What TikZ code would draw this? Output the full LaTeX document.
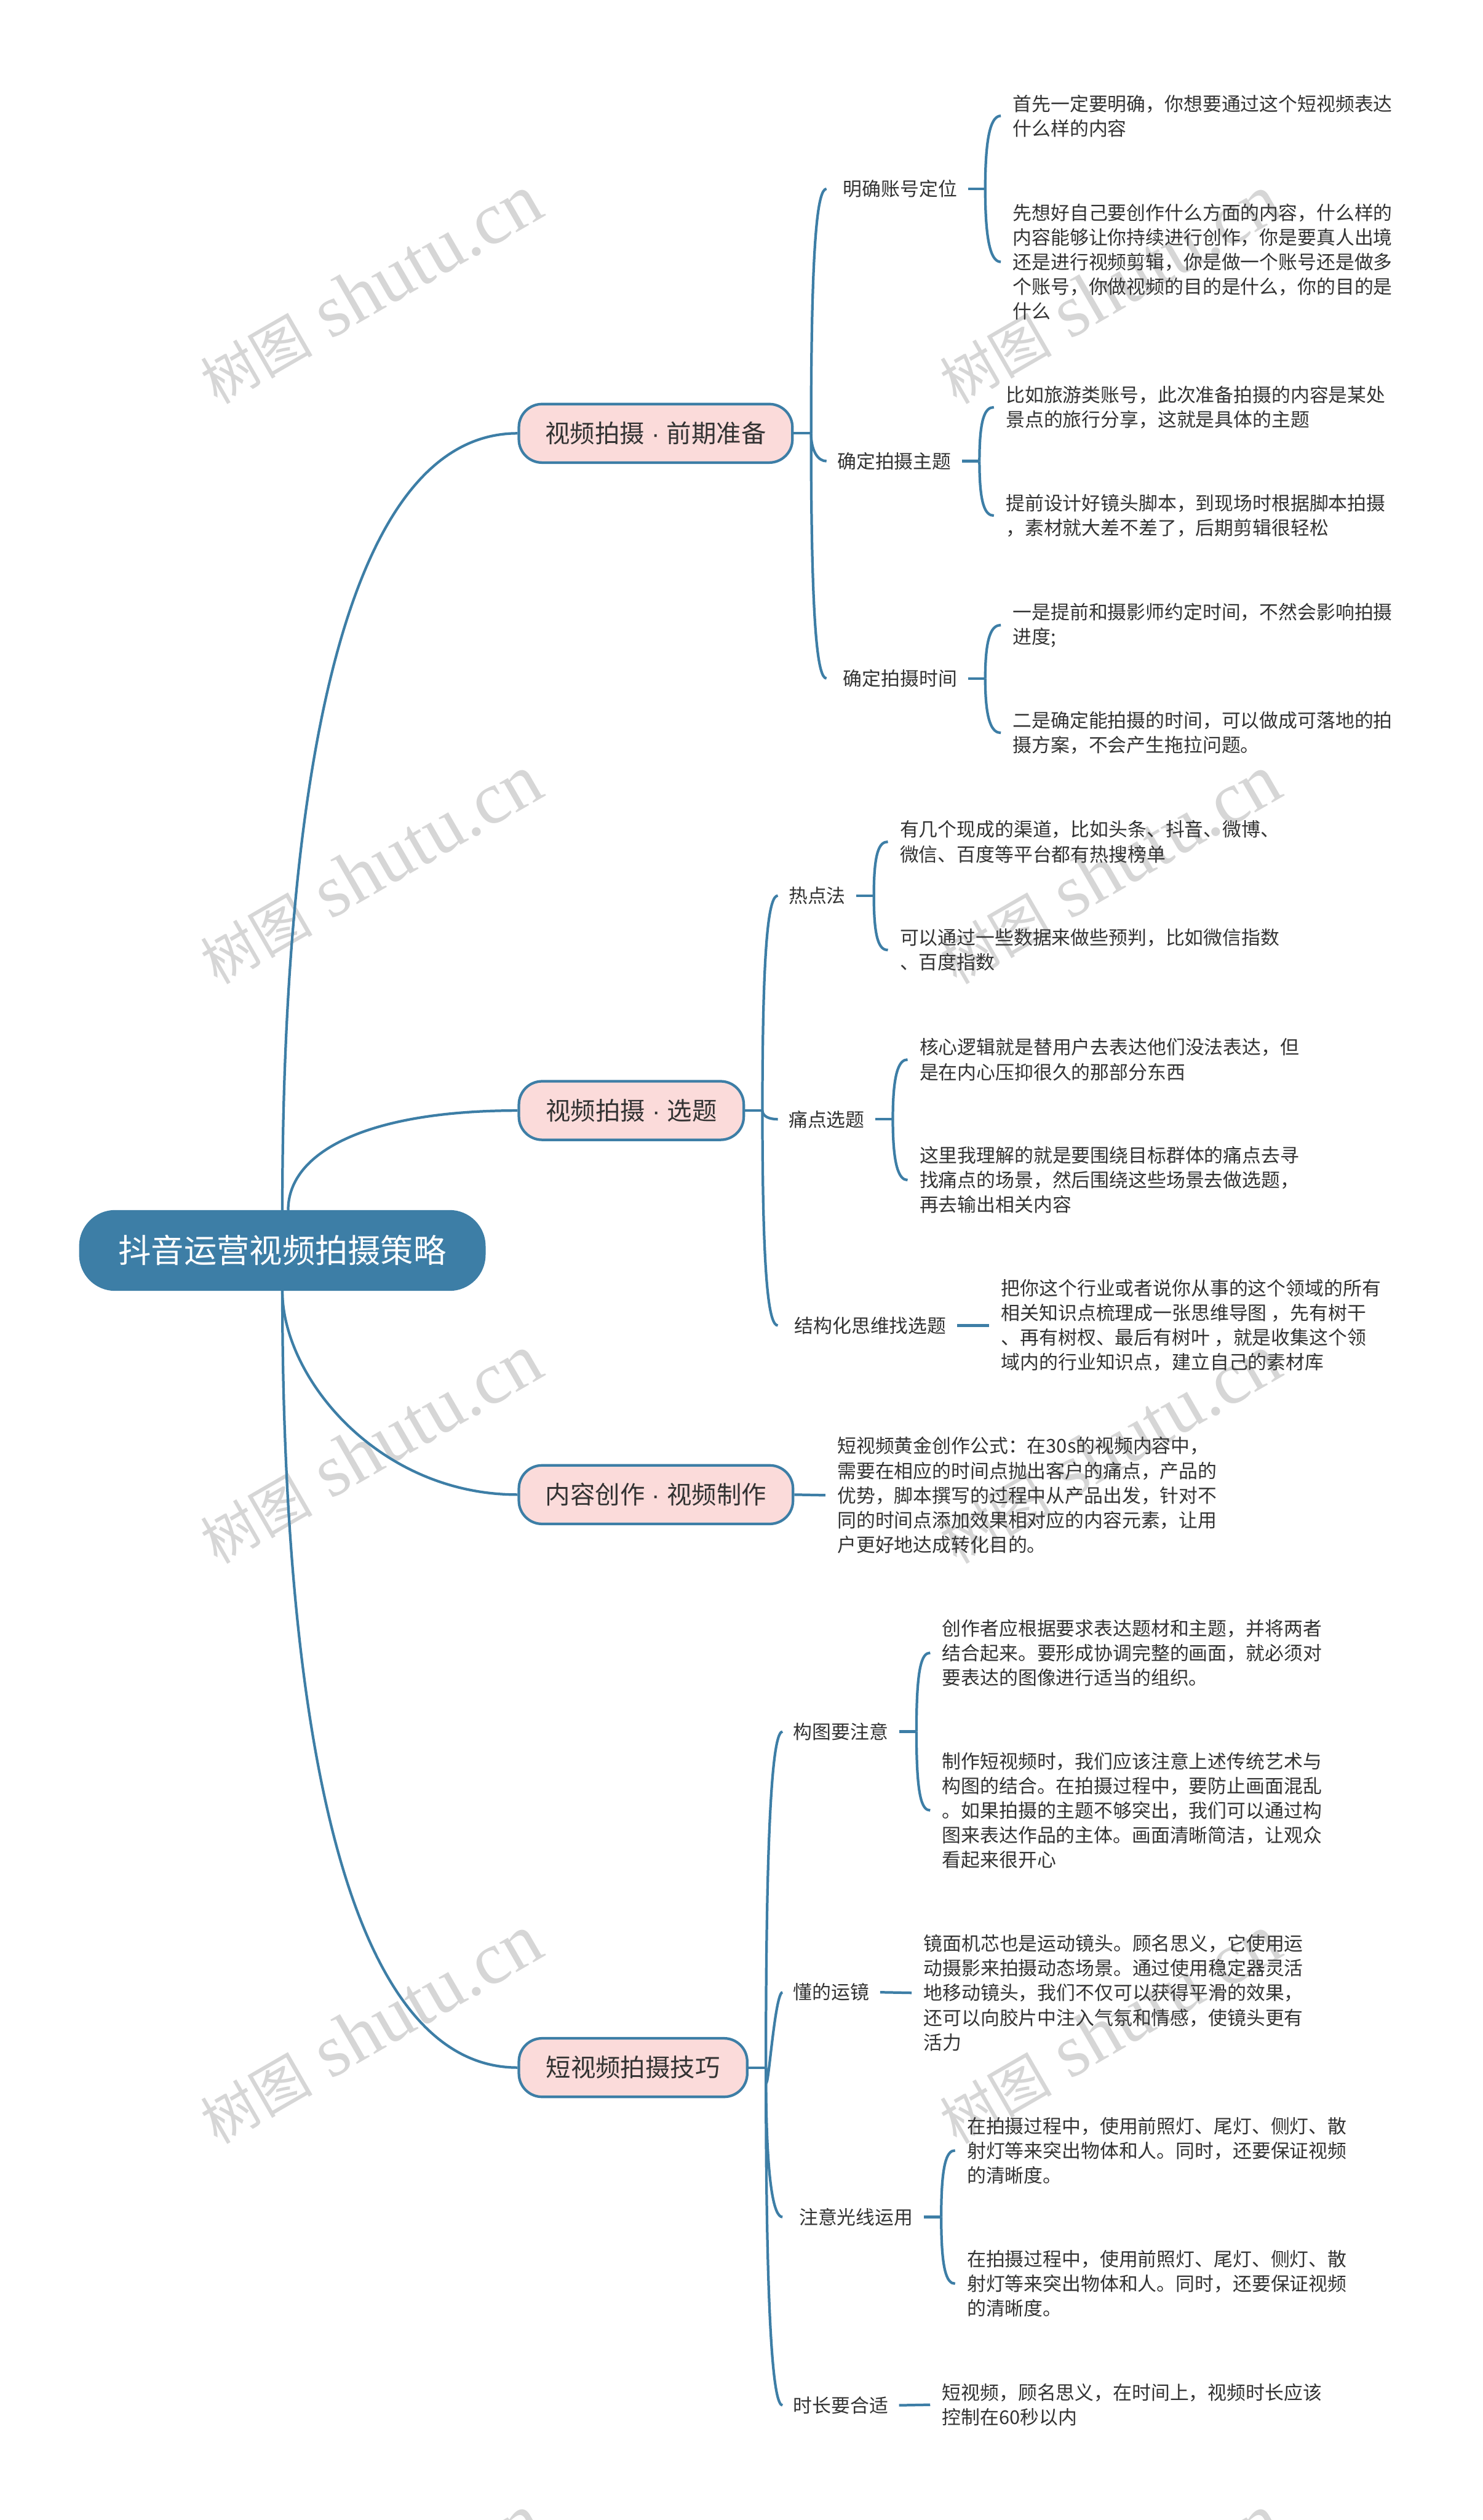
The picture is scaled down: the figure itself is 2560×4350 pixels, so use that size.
\documentclass[tikz,border=0pt]{standalone}
\usepackage{fontspec}
\setmainfont{Noto Sans CJK SC}
\newfontfamily\wmlatin{Liberation Serif}
\newfontfamily\dotfont{Liberation Sans}
\usepackage{xcolor}
\usetikzlibrary{calc}
\definecolor{teal}{HTML}{3D7EA6}
\definecolor{blush}{HTML}{FBDBDA}
\definecolor{mark}{HTML}{D6D6D6}
\definecolor{ink}{HTML}{333333}
\newcommand\tdot{{\dotfont\ ·\ }}

\begin{document}
\begin{tikzpicture}[
x=0.01cm, y=-0.01cm,
rootbox/.style={
	draw=teal, fill=teal, line width=.45mm, rounded corners=6mm,
	minimum width=6.97cm, minimum height=1.35cm, inner sep=0pt,
	text=white, font=\fontsize{16.1}{20}\selectfont
},
topic/.style={
	draw=teal, fill=blush, line width=.45mm, rounded corners=4mm,
	minimum height=1.01cm, inner sep=0pt,
	text=ink, font=\fontsize{12.2}{15}\selectfont
},
sub/.style={
	anchor=west, inner xsep=1.8mm, inner ysep=0pt,
	text=ink, font=\fontsize{9.32}{12.1}\selectfont
},
pad/.style={execute at begin node=\hspace{1mm}},
leaf/.style={
	anchor=west, inner xsep=2mm, inner ysep=0pt, align=left,
	text=ink, font=\fontsize{9.32}{12.1}\selectfont
},
wmark/.style={rotate=30, text=mark, inner sep=0pt},
link/.style={draw=teal, line width=.45mm},
limb/.style={link, out distance=#1, in distance=1.5mm}
]
\useasboundingbox (0,0) rectangle (2560,4350);

% watermark
\begin{scope}
\clip (0,0) rectangle (2560,4350);
\foreach \wx in {640,1916}
	\foreach \wy in {500,1501,2502,3503,4504}
		\node[wmark] (wm-\wx-\wy) at (\wx,\wy)
			{\fontsize{27.5}{30}\selectfont 树图\wmlatin\fontsize{36.5}{40}\selectfont\ shutu.cn};
\end{scope}

\node[rootbox] (root) at (487.5,2158.5) {抖音运营视频拍摄策略};

\node[topic,minimum width=4.72cm] (a) at (1132,748) {视频拍摄\tdot 前期准备};
\node[topic,minimum width=3.88cm] (b) at (1090,1917) {视频拍摄\tdot 选题};
\node[topic,minimum width=4.73cm] (c) at (1132.5,2580) {内容创作\tdot 视频制作};
\node[topic,minimum width=3.94cm] (d) at (1093,3569) {短视频拍摄技巧};

\node[sub,pad] (a1) at (1427,326) {明确账号定位};
\node[sub] (a2) at (1427,796) {确定拍摄主题};
\node[sub,pad] (a3) at (1427,1171) {确定拍摄时间};
\node[sub] (b1) at (1343,1546) {热点法};
\node[sub] (b2) at (1343,1932) {痛点选题};
\node[sub,pad] (b3) at (1343,2288) {结构化思维找选题};
\node[sub] (d1) at (1351,2989) {构图要注意};
\node[sub] (d2) at (1351,3439) {懂的运镜};
\node[sub,pad] (d3) at (1351,3827) {注意光线运用};
\node[sub] (d4) at (1351,4152) {时长要合适};

\node[leaf] (a11) at (1728,200) {首先一定要明确，你想要通过这个短视频表达\\什么样的内容};
\node[leaf] (a12) at (1728,452) {先想好自己要创作什么方面的内容，什么样的\\内容能够让你持续进行创作，你是要真人出境\\还是进行视频剪辑，你是做一个账号还是做多\\个账号，你做视频的目的是什么，你的目的是\\什么};
\node[leaf] (a21) at (1716,703) {比如旅游类账号，此次准备拍摄的内容是某处\\景点的旅行分享，这就是具体的主题};
\node[leaf] (a22) at (1716,890) {提前设计好镜头脚本，到现场时根据脚本拍摄\\，素材就大差不差了，后期剪辑很轻松};
\node[leaf] (a31) at (1728,1079) {一是提前和摄影师约定时间，不然会影响拍摄\\进度;};
\node[leaf] (a32) at (1728,1265) {二是确定能拍摄的时间，可以做成可落地的拍\\摄方案，不会产生拖拉问题。};
\node[leaf] (b11) at (1533,1453) {有几个现成的渠道，比如头条、抖音、微博、\\微信、百度等平台都有热搜榜单};
\node[leaf] (b12) at (1533,1640) {可以通过一些数据来做些预判，比如微信指数\\、百度指数};
\node[leaf] (b21) at (1567,1829) {核心逻辑就是替用户去表达他们没法表达，但\\是在内心压抑很久的那部分东西};
\node[leaf] (b22) at (1567,2037) {这里我理解的就是要围绕目标群体的痛点去寻\\找痛点的场景，然后围绕这些场景去做选题，\\再去输出相关内容};
\node[leaf] (b31) at (1708,2288) {把你这个行业或者说你从事的这个领域的所有\\相关知识点梳理成一张思维导图 ，先有树干\\、再有树杈、最后有树叶 ，就是收集这个领\\域内的行业知识点，建立自己的素材库};
\node[leaf] (c1) at (1425,2581) {短视频黄金创作公式：在30s的视频内容中，\\需要在相应的时间点抛出客户的痛点，产品的\\优势，脚本撰写的过程中从产品出发，针对不\\同的时间点添加效果相对应的内容元素，让用\\户更好地达成转化目的。};
\node[leaf] (d11) at (1606,2853) {创作者应根据要求表达题材和主题，并将两者\\结合起来。要形成协调完整的画面，就必须对\\要表达的图像进行适当的组织。};
\node[leaf] (d12) at (1606,3125) {制作短视频时，我们应该注意上述传统艺术与\\构图的结合。在拍摄过程中，要防止画面混乱\\。如果拍摄的主题不够突出，我们可以通过构\\图来表达作品的主体。画面清晰简洁，让观众\\看起来很开心};
\node[leaf] (d21) at (1574,3440) {镜面机芯也是运动镜头。顾名思义，它使用运\\动摄影来拍摄动态场景。通过使用稳定器灵活\\地移动镜头，我们不仅可以获得平滑的效果，\\还可以向胶片中注入气氛和情感，使镜头更有\\活力};
\node[leaf] (d31) at (1649,3712) {在拍摄过程中，使用前照灯、尾灯、侧灯、散\\射灯等来突出物体和人。同时，还要保证视频\\的清晰度。};
\node[leaf] (d32) at (1649,3942) {在拍摄过程中，使用前照灯、尾灯、侧灯、散\\射灯等来突出物体和人。同时，还要保证视频\\的清晰度。};
\node[leaf] (d41) at (1606,4151) {短视频，顾名思义，在时间上，视频时长应该\\控制在60秒以内};

% trunk curves out of the root
\draw[link,out distance=5.91cm,in distance=3.36cm] (root.north) to[out=90,in=180] (a.west);
\draw[link,out distance=1cm,in distance=2.6cm] ([xshift=1mm]root.north) to[out=90,in=180] (b.west);
\draw[link,out distance=1.5cm,in distance=2.4cm] (root.south) to[out=-90,in=180] (c.west);
\draw[link,out distance=5.91cm,in distance=3.36cm] (root.south) to[out=-90,in=180] (d.west);

% stems with a spine behind them
\foreach \p in {a,b,d,a1,a2,a3,b1,b2,d1,d3}
{
	\coordinate (s\p) at ($(\p.east)+(30,0)$);
	\draw[link] (\p.east) -- (s\p);
}
% stems with one leaf
\foreach \p/\q in {b3/b31,c/c1,d2/d21,d4/d41}
	\draw[link] (\p.east) -- (\q.west);

% brackets
\foreach \s/\q/\o/\d in {
	a/a1/90/3.4cm,a/a2/-90/.3cm,a/a3/-90/3.4cm,
	b/b1/90/3cm,b/b2/-90/.1cm,b/b3/-90/3cm,
	d/d1/90/4.6cm,d/d2/-90/1cm,d/d3/-90/2cm,d/d4/-90/4.6cm,
	a1/a11/90/1cm,a1/a12/-90/1cm,a2/a21/90/.75cm,a2/a22/-90/.75cm,
	a3/a31/90/.75cm,a3/a32/-90/.75cm,b1/b11/90/.75cm,b1/b12/-90/.75cm,
	b2/b21/90/.8cm,b2/b22/-90/.8cm,d1/d11/90/1.1cm,d1/d12/-90/1.1cm,
	d3/d31/90/.9cm,d3/d32/-90/.9cm}
	\draw[limb=\d] (s\s) to[out=\o,in=180] (\q.west);
\end{tikzpicture}
\end{document}
